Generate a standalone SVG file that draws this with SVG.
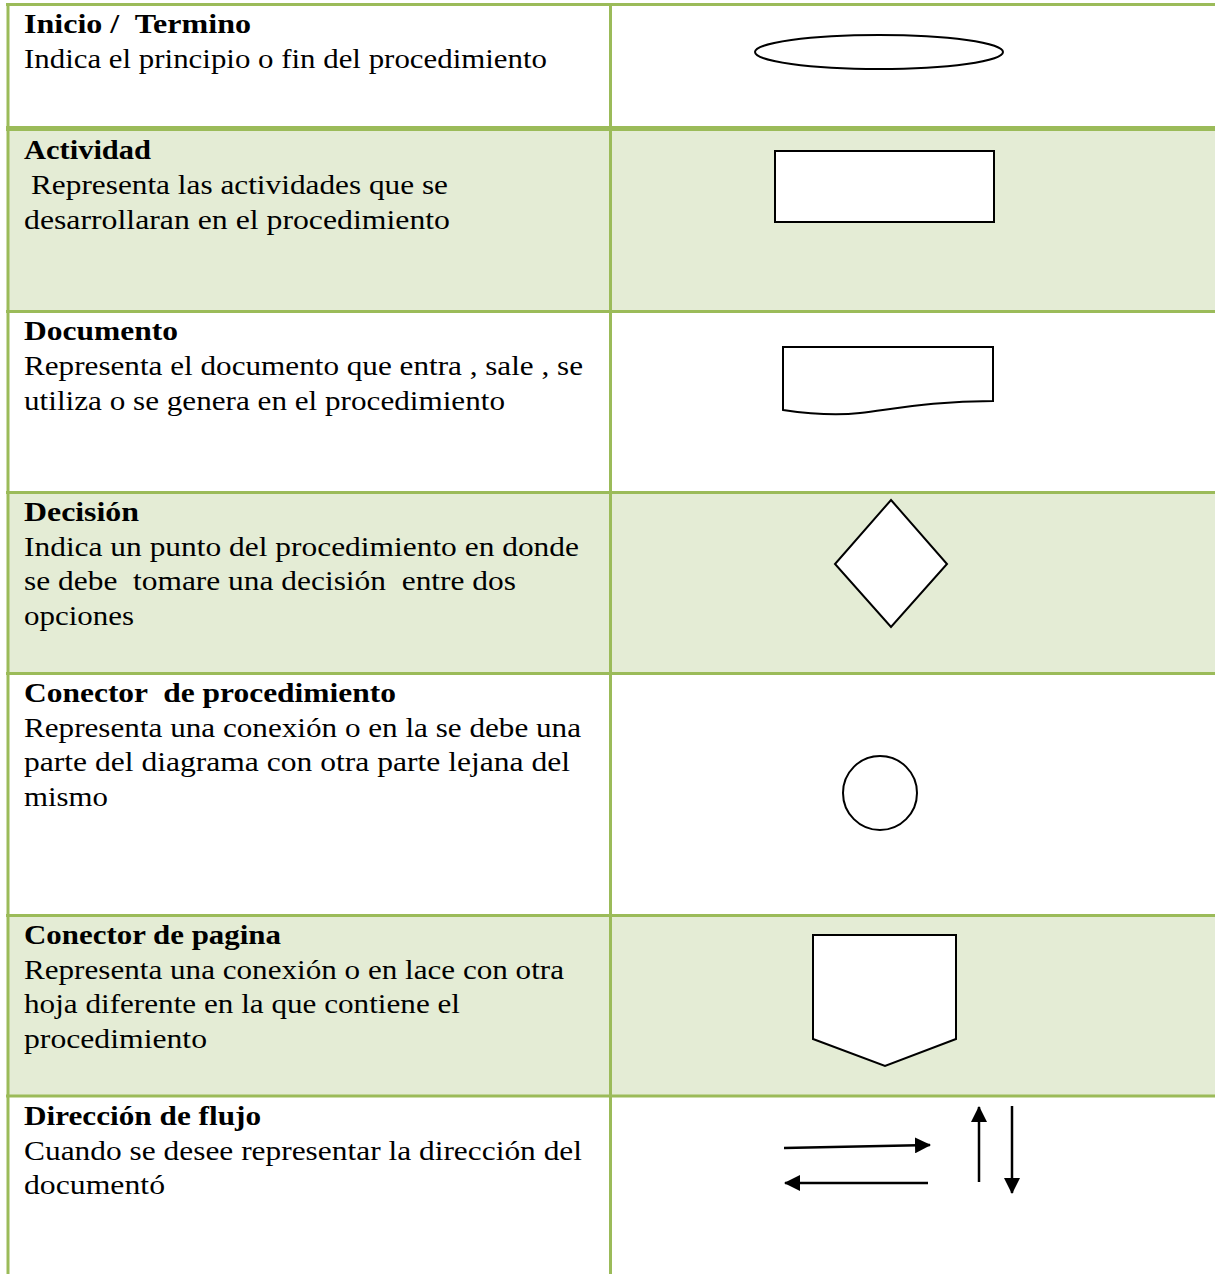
<svg xmlns="http://www.w3.org/2000/svg" width="1215" height="1274" viewBox="0 0 1215 1274">
<style>
  .bg { fill: #ffffff; }
  .band { fill: #E4ECD5; }
  .grid { stroke: #9BBB59; fill: none; }
  text { white-space: pre; }
  .t { font-family: "Liberation Serif", "Times New Roman", serif; font-size: 28px; font-weight: bold; fill: #000; }
  .b { font-family: "Liberation Serif", "Times New Roman", serif; font-size: 28px; fill: #000; }
  .shape { fill: #ffffff; stroke: #000; stroke-width: 2; }
  .flow { stroke: #000; stroke-width: 2.5; fill: none; }
</style>
<defs>
  <marker id="head" markerUnits="userSpaceOnUse" markerWidth="17" markerHeight="16" refX="15" refY="8" orient="auto">
    <path d="M0,0 L16,8 L0,16 Z" fill="#000"/>
  </marker>
</defs>
<rect class="bg" x="0" y="0" width="1215" height="1274"/>
<g id="bands">
  <rect class="band" x="8" y="131" width="1207" height="180"/>
  <rect class="band" x="8" y="494" width="1207" height="178"/>
  <rect class="band" x="8" y="917" width="1207" height="178"/>
</g>
<g id="grid">
  <line class="grid" x1="6" y1="4.5" x2="1215" y2="4.5" stroke-width="3"/>
  <line class="grid" x1="6" y1="128.5" x2="1215" y2="128.5" stroke-width="5"/>
  <line class="grid" x1="6" y1="311.5" x2="1215" y2="311.5" stroke-width="3"/>
  <line class="grid" x1="6" y1="492.5" x2="1215" y2="492.5" stroke-width="3"/>
  <line class="grid" x1="6" y1="673.5" x2="1215" y2="673.5" stroke-width="3"/>
  <line class="grid" x1="6" y1="915.5" x2="1215" y2="915.5" stroke-width="3"/>
  <line class="grid" x1="6" y1="1096" x2="1215" y2="1096" stroke-width="3"/>
  <line class="grid" x1="8" y1="3" x2="8" y2="1274" stroke-width="3"/>
  <line class="grid" x1="610.5" y1="3" x2="610.5" y2="1274" stroke-width="3"/>
</g>
<g id="row-inicio">
  <text class="t" x="24" y="33" textLength="227" lengthAdjust="spacingAndGlyphs">Inicio /  Termino</text>
  <text class="b" x="24" y="68" textLength="523" lengthAdjust="spacingAndGlyphs">Indica el principio o fin del procedimiento</text>
  <ellipse class="shape" cx="879" cy="52" rx="124" ry="17"/>
</g>
<g id="row-actividad">
  <text class="t" x="24" y="159" textLength="127" lengthAdjust="spacingAndGlyphs">Actividad</text>
  <text class="b" x="31" y="194" textLength="417" lengthAdjust="spacingAndGlyphs">Representa las actividades que se</text>
  <text class="b" x="24" y="229" textLength="426" lengthAdjust="spacingAndGlyphs">desarrollaran en el procedimiento</text>
  <rect class="shape" x="775" y="151" width="219" height="71"/>
</g>
<g id="row-documento">
  <text class="t" x="24" y="340" textLength="154" lengthAdjust="spacingAndGlyphs">Documento</text>
  <text class="b" x="24" y="375" textLength="559" lengthAdjust="spacingAndGlyphs">Representa el documento que entra , sale , se</text>
  <text class="b" x="24" y="410" textLength="481" lengthAdjust="spacingAndGlyphs">utiliza o se genera en el procedimiento</text>
  <path class="shape" d="M783,410 C810,414 835,416 860,413 C900,408 935,401 993,401 V347 H783 Z"/>
</g>
<g id="row-decision">
  <text class="t" x="24" y="521" textLength="115" lengthAdjust="spacingAndGlyphs">Decisión</text>
  <text class="b" x="24" y="556" textLength="555" lengthAdjust="spacingAndGlyphs">Indica un punto del procedimiento en donde</text>
  <text class="b" x="24" y="590" textLength="492" lengthAdjust="spacingAndGlyphs">se debe  tomare una decisión  entre dos</text>
  <text class="b" x="24" y="625" textLength="110" lengthAdjust="spacingAndGlyphs">opciones</text>
  <polygon class="shape" points="891,500 947,564 891,627 835,564"/>
</g>
<g id="row-conector-procedimiento">
  <text class="t" x="24" y="702" textLength="372" lengthAdjust="spacingAndGlyphs">Conector  de procedimiento</text>
  <text class="b" x="24" y="737" textLength="557" lengthAdjust="spacingAndGlyphs">Representa una conexión o en la se debe una</text>
  <text class="b" x="24" y="771" textLength="546" lengthAdjust="spacingAndGlyphs">parte del diagrama con otra parte lejana del</text>
  <text class="b" x="24" y="806" textLength="84" lengthAdjust="spacingAndGlyphs">mismo</text>
  <circle class="shape" cx="880" cy="793" r="37"/>
</g>
<g id="row-conector-pagina">
  <text class="t" x="24" y="944" textLength="257" lengthAdjust="spacingAndGlyphs">Conector de pagina</text>
  <text class="b" x="24" y="979" textLength="540" lengthAdjust="spacingAndGlyphs">Representa una conexión o en lace con otra</text>
  <text class="b" x="24" y="1013" textLength="436" lengthAdjust="spacingAndGlyphs">hoja diferente en la que contiene el</text>
  <text class="b" x="24" y="1048" textLength="183" lengthAdjust="spacingAndGlyphs">procedimiento</text>
  <polygon class="shape" points="813,935 956,935 956,1039 885,1066 813,1039"/>
</g>
<g id="row-direccion">
  <text class="t" x="24" y="1125" textLength="237" lengthAdjust="spacingAndGlyphs">Dirección de flujo</text>
  <text class="b" x="24" y="1160" textLength="558" lengthAdjust="spacingAndGlyphs">Cuando se desee representar la dirección del</text>
  <text class="b" x="24" y="1194" textLength="141" lengthAdjust="spacingAndGlyphs">documentó</text>
</g>
<g id="connectors">
  <line class="flow" x1="784" y1="1148" x2="930" y2="1145" marker-end="url(#head)"/>
  <line class="flow" x1="928" y1="1183" x2="785" y2="1183" marker-end="url(#head)"/>
  <line class="flow" x1="979" y1="1182" x2="979" y2="1107" marker-end="url(#head)"/>
  <line class="flow" x1="1012" y1="1106" x2="1012" y2="1193" marker-end="url(#head)"/>
</g>
</svg>
